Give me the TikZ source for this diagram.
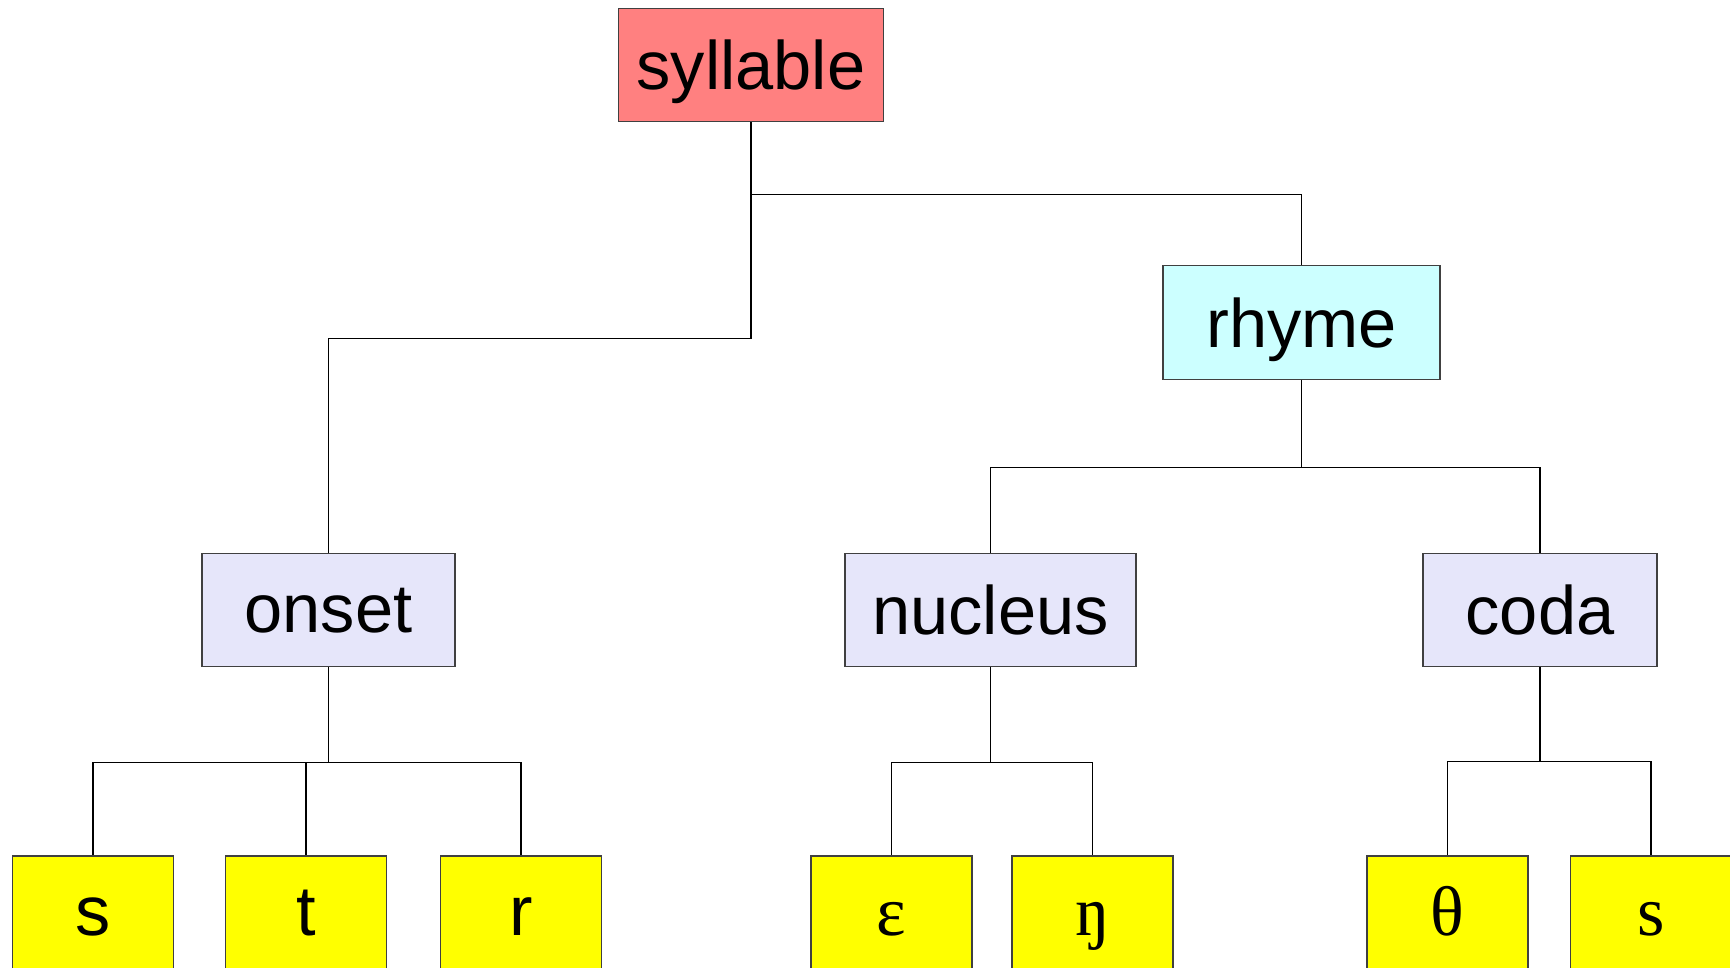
\documentclass[tikz,border=0pt]{standalone}
\usepackage{fontspec}
\setmainfont{Liberation Sans}
\newfontfamily\ipafont{Liberation Serif}
\usepackage{tikz}

\begin{document}
\begin{tikzpicture}[x=0.01cm,y=-0.01cm,line width=0.35pt,
  box/.style={draw=black!75,inner sep=0pt,text depth=0pt,font=\fontsize{19.5}{23}\selectfont},
  leaf/.style={box,fill={rgb,255:red,255;green,255;blue,0},minimum width=1.61cm,minimum height=1.6cm,text height=0.3cm,text depth=0.3cm,font=\fontsize{20}{24}\selectfont}]
\useasboundingbox (0,0) rectangle (1730,968);
\node (syllable)[box,fill={rgb,255:red,255;green,128;blue,128},minimum width=2.65cm,minimum height=1.13cm] at (751,65) {syllable};
\node (rhyme)[box,fill={rgb,255:red,204;green,255;blue,255},minimum width=2.77cm,minimum height=1.14cm] at (1301.5,322.5) {rhyme};
\foreach \name/\x/\w in {onset/328.5/2.53,nucleus/990.5/2.91,coda/1540/2.34}
\node (\name)[box,fill={rgb,255:red,230;green,230;blue,250},minimum width=\w cm,minimum height=1.13cm] at (\x,610) {\name};
\foreach \name/\x/\label in {s/93/s,t/306/t,r/521/r,eps/891.5/{\ipafont ɛ},eng/1092.5/{\ipafont ŋ},theta/1447.5/{\ipafont θ},s2/1651/{\ipafont s}}
\node (\name)[leaf] at (\x,936) {\label};
\draw (syllable.south) -- ++(0,72.5) -| (rhyme.north);
\draw (syllable.south) -- ++(0,216.5) -| (onset.north);
\foreach \to in {nucleus,coda}
\draw (rhyme.south) -- ++(0,87.5) -| (\to.north);
\foreach \to in {s,t,r}
\draw (onset.south) -- ++(0,95) -| (\to.north);
\foreach \to in {eps,eng}
\draw (nucleus.south) -- ++(0,95.5) -| (\to.north);
\foreach \to in {theta,s2}
\draw (coda.south) -- ++(0,94.5) -| (\to.north);
\end{tikzpicture}
\end{document}
